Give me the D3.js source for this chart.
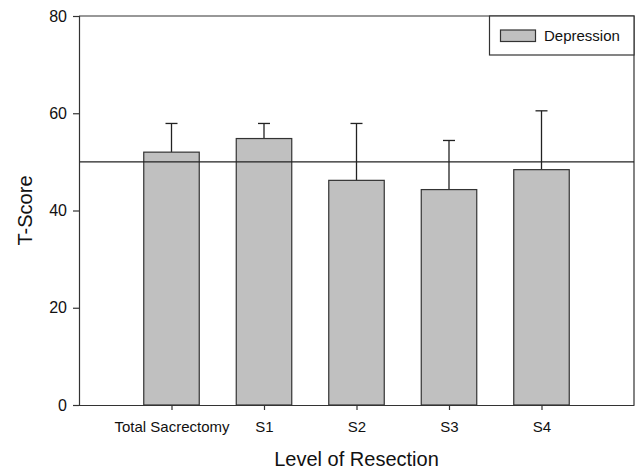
<!DOCTYPE html>
<html lang="en">
<head>
    <meta charset="UTF-8">
    <title>T-Score by Level of Resection</title>
    <style>
        body { margin: 0; background: #fff; }
        svg text { font-family: "Liberation Sans", Arial, sans-serif; fill: #111; }
    </style>
</head>
<body>
<div id="chart"></div>

<script src="https://d3js.org/d3.v7.min.js"></script>
<script>
    // data
    var categories = ["Total Sacrectomy", "S1", "S2", "S3", "S4"];
    var means = [52.0, 54.8, 46.2, 44.3, 48.4];
    var errTops = [57.9, 57.9, 57.9, 54.4, 60.5];
    var yTicks = [0, 20, 40, 60, 80];
    var refValue = 50;
    var seriesName = "Depression";

    var width = 637, height = 473;
    var margin = {top: 16, right: 3, bottom: 68, left: 79};

    var svg = d3.select("#chart").append("svg")
        .attr("width", width)
        .attr("height", height);

    // slots 0..6, categories sit on 1..5
    var x = d3.scalePoint()
        .domain(["_l"].concat(categories, ["_r"]))
        .range([margin.left, width - margin.right]);

    var y = d3.scaleLinear()
        .domain([0, 80])
        .range([height - margin.bottom, margin.top]);

    var barW = x.step() * 0.6;

    // frame (top + right)
    svg.append("path")
        .attr("d", "M" + margin.left + "," + y(80) + "H" + (width - margin.right) + "V" + y(0))
        .attr("fill", "none")
        .attr("stroke", "#333")
        .attr("stroke-width", 1.2);

    // error bars (drawn under the bars)
    svg.selectAll(".err")
        .data(categories)
        .enter()
        .append("g")
        .attr("class", "err")
        .each(function (c, i) {
            var g = d3.select(this);
            var cx = x(c);
            g.append("line")
                .attr("x1", cx).attr("x2", cx)
                .attr("y1", y(means[i])).attr("y2", y(errTops[i]))
                .attr("stroke", "#222").attr("stroke-width", 1.3);
            g.append("line")
                .attr("x1", cx - 6).attr("x2", cx + 6)
                .attr("y1", y(errTops[i])).attr("y2", y(errTops[i]))
                .attr("stroke", "#222").attr("stroke-width", 1.3);
        });

    // bars
    svg.selectAll(".bar")
        .data(categories)
        .enter()
        .append("rect")
        .attr("class", "bar")
        .attr("x", function (d) { return x(d) - barW / 2; })
        .attr("y", function (d, i) { return y(means[i]); })
        .attr("width", barW)
        .attr("height", function (d, i) { return y(0) - y(means[i]); })
        .attr("fill", "#c0c0c0")
        .attr("stroke", "#333")
        .attr("stroke-width", 1.2);

    // reference line at 50
    svg.append("line")
        .attr("x1", margin.left).attr("x2", width - margin.right)
        .attr("y1", y(refValue)).attr("y2", y(refValue))
        .attr("stroke", "#222")
        .attr("stroke-width", 1.2);

    // y axis
    var yAxis = svg.append("g")
        .attr("transform", "translate(" + margin.left + ",0)")
        .call(d3.axisLeft(y).tickValues(yTicks).tickSize(6).tickPadding(6));
    yAxis.selectAll("text").style("font-size", "16px");

    // x axis
    var xAxis = svg.append("g")
        .attr("transform", "translate(0," + y(0) + ")")
        .call(d3.axisBottom(x).tickValues(categories).tickSize(5).tickPadding(11).tickSizeOuter(0));
    xAxis.selectAll("text").style("font-size", "15px");

    svg.selectAll(".domain, .tick line")
        .attr("stroke", "#333")
        .attr("stroke-width", 1.2);

    // axis titles
    svg.append("text")
        .attr("x", (margin.left + width - margin.right) / 2)
        .attr("y", 466)
        .attr("text-anchor", "middle")
        .style("font-size", "20px")
        .text("Level of Resection");

    svg.append("text")
        .attr("transform", "translate(32," + ((y(0) + y(80)) / 2) + ") rotate(-90)")
        .attr("text-anchor", "middle")
        .style("font-size", "20px")
        .text("T-Score");

    // legend
    var lg = svg.append("g");
    lg.append("rect")
        .attr("x", 489.5).attr("y", y(80))
        .attr("width", width - margin.right - 489.5)
        .attr("height", 39)
        .attr("fill", "#fff")
        .attr("stroke", "#333")
        .attr("stroke-width", 1.2);
    lg.append("rect")
        .attr("x", 500.5).attr("y", 30)
        .attr("width", 35).attr("height", 11.5)
        .attr("fill", "#c0c0c0")
        .attr("stroke", "#333")
        .attr("stroke-width", 1.2);
    lg.append("text")
        .attr("x", 544).attr("y", 41)
        .style("font-size", "15px")
        .text(seriesName);
</script>
</body>
</html>
